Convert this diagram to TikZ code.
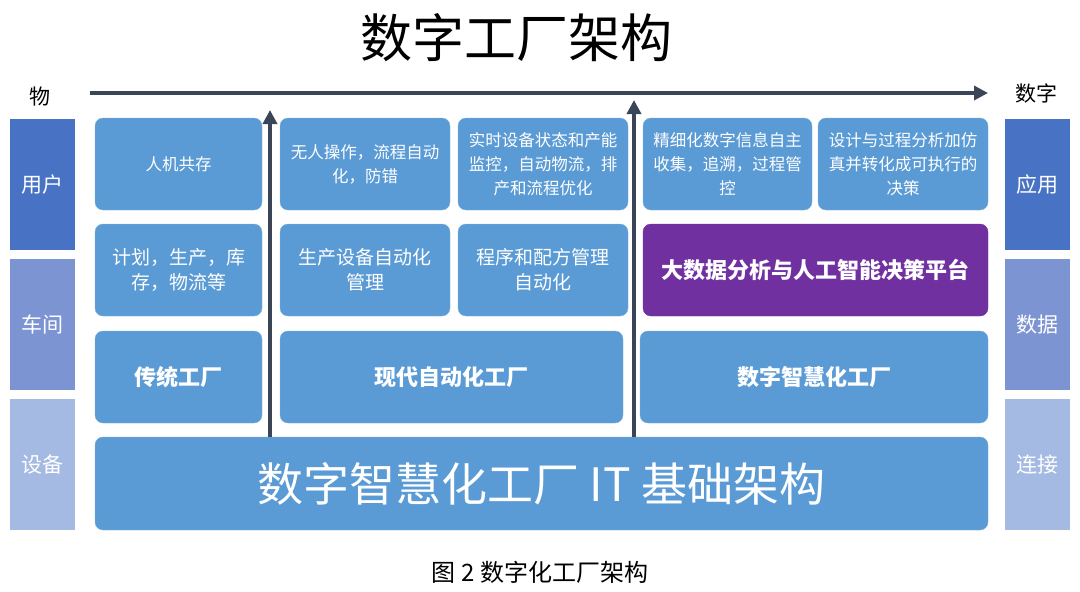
\documentclass[tikz,border=0pt]{standalone}
\usepackage{fontspec}
\setmainfont{Noto Sans CJK SC}
\usetikzlibrary{arrows.meta}
\definecolor{cellblue}{RGB}{91,155,213}
\definecolor{userblue}{RGB}{72,114,196}
\definecolor{shopblue}{RGB}{125,148,210}
\definecolor{devblue}{RGB}{165,186,226}
\definecolor{aipurple}{RGB}{112,48,160}
\definecolor{arrowgray}{RGB}{58,70,88}
\begin{document}
\begin{tikzpicture}[x=1pt,y=-1pt]
        \tikzstyle{block}=[rectangle,rounded corners=8pt,fill=cellblue,draw=cellblue!80!white,text=white,align=center,inner sep=0pt,minimum height=92pt]
        \tikzstyle{sidebox}=[rectangle,text=white,inner sep=0pt,minimum width=65pt,minimum height=131pt,font=\fontsize{21pt}{24pt}\selectfont]
        \tikzstyle{flow}=[draw=arrowgray,line width=3.5pt,-{Triangle[length=14pt,width=14pt]}]
        \tikzstyle{small}=[font=\fontsize{16.5pt}{24pt}\selectfont]
        \tikzstyle{mid}=[font=\fontsize{19pt}{25pt}\selectfont]
        \tikzstyle{big}=[font=\fontsize{22pt}{25pt}\selectfont\bfseries]
        \useasboundingbox (0,0) rectangle (1080,592);
        % title and axis
        \node (title) at (516,38) {\fontsize{52pt}{56pt}\selectfont 数字工厂架构};
        \node (wu) at (40,97) {\fontsize{21pt}{24pt}\selectfont 物};
        \node (shuzi) at (1036,93) {\fontsize{21pt}{24pt}\selectfont 数字};
        \coordinate (axisstart) at (90,93);
        \coordinate (axisend) at (988,93);
        % left side
        \node [sidebox,fill=userblue] (user) at (42.5,184.5) {用户};
        \node [sidebox,fill=shopblue] (shop) at (42.5,324.5) {车间};
        \node [sidebox,fill=devblue] (device) at (42.5,464.5) {设备};
        % right side
        \node [sidebox,fill=userblue] (app) at (1037.5,184.5) {应用};
        \node [sidebox,fill=shopblue] (data) at (1037.5,324.5) {数据};
        \node [sidebox,fill=devblue] (link) at (1037.5,464.5) {连接};
        % row 1
        \node [block,small,minimum width=167pt] (a1) at (178.5,164) {人机共存};
        \node [block,small,minimum width=170pt] (a2) at (365,164) {无人操作，流程自动\\化，防错};
        \node [block,small,minimum width=170pt] (a3) at (543,164) {实时设备状态和产能\\监控，自动物流，排\\产和流程优化};
        \node [block,small,minimum width=169pt] (a4) at (727.5,164) {精细化数字信息自主\\收集，追溯，过程管\\控};
        \node [block,small,minimum width=170pt] (a5) at (903,164) {设计与过程分析加仿\\真并转化成可执行的\\决策};
        % row 2
        \node [block,mid,minimum width=167pt] (b1) at (178.5,270) {计划，生产，库\\存，物流等};
        \node [block,mid,minimum width=170pt] (b2) at (365,270) {生产设备自动化\\管理};
        \node [block,mid,minimum width=170pt] (b3) at (543,270) {程序和配方管理\\自动化};
        \node [block,big,fill=aipurple,draw=aipurple,minimum width=345pt] (b4) at (815.5,270) {大数据分析与人工智能决策平台};
        % row 3
        \node [block,big,minimum width=167pt] (c1) at (178.5,377) {传统工厂};
        \node [block,big,minimum width=343pt] (c2) at (451.5,377) {现代自动化工厂};
        \node [block,big,minimum width=348pt] (c3) at (814,377) {数字智慧化工厂};
        % row 4
        \node [block,minimum width=893pt,minimum height=93pt,font=\fontsize{46pt}{50pt}\selectfont] (base) at (541.5,483.5) {数字智慧化工厂 IT 基础架构};
        % arrows
        \coordinate (tipL) at (270,110);
        \coordinate (tipR) at (634,100);
        \path[flow] (axisstart) -- (axisend);
        \path[flow] (base.north -| tipL) -- (tipL);
        \path[flow] (base.north -| tipR) -- (tipR);
        % caption
        \node (caption) at (540,572) {\fontsize{24pt}{28pt}\selectfont 图 2 数字化工厂架构};
\end{tikzpicture}
\end{document}
